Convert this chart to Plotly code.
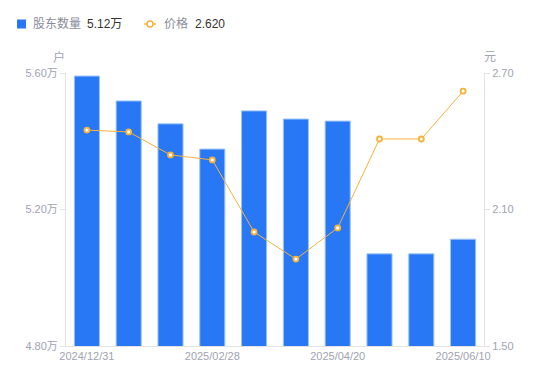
import plotly.graph_objects as go

dates = ["2024/12/31", "2025/01/10", "2025/01/20", "2025/02/28", "2025/03/10",
         "2025/03/31", "2025/04/20", "2025/05/10", "2025/05/20", "2025/06/10"]
holders = [5.591, 5.518, 5.451, 5.377, 5.489, 5.465, 5.459, 5.070, 5.070, 5.113]
price = [2.449, 2.441, 2.340, 2.318, 2.001, 1.882, 2.019, 2.410, 2.410, 2.620]
tick_dates = ["2024/12/31", "2025/02/28", "2025/04/20", "2025/06/10"]
left_ticks = [4.80, 5.20, 5.60]
left_labels = ["4.80万", "5.20万", "5.60万"]
right_ticks = [1.50, 2.10, 2.70]
right_labels = ["1.50", "2.10", "2.70"]
legend_holder_name = "股东数量"
legend_holder_value = "5.12万"
legend_price_name = "价格"
legend_price_value = "2.620"

blue = "#2878F5"
orange = "#F7B23B"
gray = "#A0A3B1"
font = "Liberation Sans, Arial, Noto Sans CJK SC"

# plot area in pixels
L, R, T, B = 66, 484, 73, 346
W, H = R - L, B - T


def px(x):
    return (x - L) / W


def py(y):
    return (B - y) / H


fig = go.Figure()
fig.add_trace(go.Bar(
    x=dates, y=holders, name=legend_holder_name,
    marker=dict(color=blue, line=dict(width=1, color="#9CC2FA")), width=0.6, yaxis="y",
))
fig.add_trace(go.Scatter(
    x=dates, y=price, name=legend_price_name,
    mode="lines+markers", yaxis="y2",
    line=dict(color=orange, width=1),
    marker=dict(size=5, color="white", line=dict(color=orange, width=1.8)),
))

shapes = [
    dict(type="rect", xref="paper", yref="paper", x0=px(17), x1=px(26), y0=py(28.5), y1=py(19.5),
         fillcolor=blue, line=dict(width=0)),
    dict(type="line", xref="paper", yref="paper", x0=px(144), x1=px(156), y0=py(24), y1=py(24),
         line=dict(color=orange, width=1.5)),
    dict(type="circle", xref="paper", yref="paper", x0=px(147), x1=px(153), y0=py(27), y1=py(21),
         fillcolor="white", line=dict(color=orange, width=1.5)),
]

annotations = [
    dict(text=legend_holder_name, x=px(31), y=py(24), xanchor="left", yanchor="middle",
         font=dict(size=12, color="#8A8D99")),
    dict(text=legend_holder_value, x=px(85), y=py(24), xanchor="left", yanchor="middle",
         font=dict(size=12, color="#333333")),
    dict(text=legend_price_name, x=px(162), y=py(24), xanchor="left", yanchor="middle",
         font=dict(size=12, color="#8A8D99")),
    dict(text=legend_price_value, x=px(193), y=py(24), xanchor="left", yanchor="middle",
         font=dict(size=12, color="#333333")),
    dict(text="户", x=px(59), y=py(57), xanchor="center", yanchor="middle",
         font=dict(size=12, color=gray)),
    dict(text="元", x=px(490), y=py(57), xanchor="center", yanchor="middle",
         font=dict(size=12, color=gray)),
]
for a in annotations:
    a.update(xref="paper", yref="paper", showarrow=False)

fig.update_layout(
    width=550, height=381,
    margin=dict(l=L, r=550 - R, t=T, b=381 - B, autoexpand=False),
    paper_bgcolor="white", plot_bgcolor="white",
    font=dict(family=font, size=11, color=gray),
    showlegend=False,
    hovermode=False,
    xaxis=dict(type="category", categoryorder="array", categoryarray=dates,
               range=[-0.5, len(dates) - 0.5],
               tickvals=tick_dates, ticktext=tick_dates, ticks="",
               showgrid=False, showline=True, linecolor="#E3E3E3", linewidth=1,
               tickfont=dict(size=11, color=gray), zeroline=False, automargin=False),
    yaxis=dict(range=[4.80, 5.60], tickvals=left_ticks, ticktext=left_labels,
               showgrid=False, showline=True, linecolor="#E3E3E3", linewidth=1,
               ticks="outside", ticklen=5, tickcolor="#E3E3E3",
               tickfont=dict(size=11, color=gray), zeroline=False, automargin=False),
    yaxis2=dict(range=[1.50, 2.70], tickvals=right_ticks, ticktext=right_labels,
                overlaying="y", side="right",
                showgrid=False, showline=True, linecolor="#E3E3E3", linewidth=1,
                ticks="outside", ticklen=5, tickcolor="#E3E3E3",
                tickfont=dict(size=11, color=gray), zeroline=False, automargin=False),
    shapes=shapes,
    annotations=annotations,
)

fig.write_html("out.html", config={"displayModeBar": False},
               post_script="document.body.style.margin='0';")
